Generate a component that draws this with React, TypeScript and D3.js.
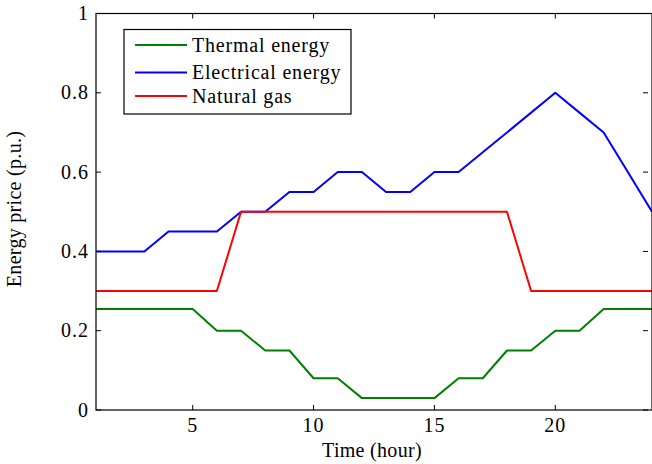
import { useEffect, useRef } from 'react';
import * as d3 from 'd3';

// hourly price data (p.u.)
const hours = d3.range(1, 25);
const thermal = [0.255, 0.255, 0.255, 0.255, 0.255, 0.2, 0.2, 0.15, 0.15, 0.08, 0.08, 0.03,
  0.03, 0.03, 0.03, 0.08, 0.08, 0.15, 0.15, 0.2, 0.2, 0.255, 0.255, 0.255];
const electrical = [0.4, 0.4, 0.4, 0.45, 0.45, 0.45, 0.5, 0.5, 0.55, 0.55, 0.6, 0.6,
  0.55, 0.55, 0.6, 0.6, 0.65, 0.7, 0.75, 0.8, 0.75, 0.7, 0.6, 0.5];
const naturalGas = [0.3, 0.3, 0.3, 0.3, 0.3, 0.3, 0.5, 0.5, 0.5, 0.5, 0.5, 0.5,
  0.5, 0.5, 0.5, 0.5, 0.5, 0.5, 0.3, 0.3, 0.3, 0.3, 0.3, 0.3];

const seriesNames = ['Thermal energy', 'Electrical energy', 'Natural gas'];
const seriesColors = ['#008000', '#0000ff', '#ff0000'];
const xTicks = [5, 10, 15, 20];
const yTicks = [0, 0.2, 0.4, 0.6, 0.8, 1];

export default function App() {
  const svgRef = useRef<SVGSVGElement>(null);

  useEffect(() => {
    const width = 652;
    const height = 464;
    const left = 96, right = 652, top = 13.5, bottom = 410;
    const font = 'Liberation Serif, Times New Roman, serif';
    const fs = 20;

    const svg = d3.select(svgRef.current);
    svg.selectAll('*').remove();
    svg.attr('width', width).attr('height', height);

    svg.append('rect').attr('width', width).attr('height', height).attr('fill', 'white');

    const x = d3.scaleLinear().domain([1, 24]).range([left, right]);
    const y = d3.scaleLinear().domain([0, 1]).range([bottom, top]);

    // lines
    const allSeries = [thermal, electrical, naturalGas];
    const line = d3.line<number>()
      .x((_, i) => x(hours[i]))
      .y((d) => y(d));

    allSeries.forEach((vals, i) => {
      svg.append('path')
        .datum(vals)
        .attr('d', line)
        .attr('fill', 'none')
        .attr('stroke', seriesColors[i])
        .attr('stroke-width', 2)
        .attr('stroke-linejoin', 'round');
    });

    // axes box
    svg.append('rect')
      .attr('x', left).attr('y', top)
      .attr('width', right - left).attr('height', bottom - top)
      .attr('fill', 'none').attr('stroke', 'black').attr('stroke-width', 1.2);

    const tickLen = 5;
    xTicks.forEach((t) => {
      svg.append('line').attr('x1', x(t)).attr('x2', x(t)).attr('y1', bottom).attr('y2', bottom - tickLen)
        .attr('stroke', 'black');
      svg.append('line').attr('x1', x(t)).attr('x2', x(t)).attr('y1', top).attr('y2', top + tickLen)
        .attr('stroke', 'black');
      svg.append('text')
        .attr('x', x(t)).attr('y', 432)
        .attr('text-anchor', 'middle')
        .attr('font-family', font).attr('font-size', fs).attr('letter-spacing', 1)
        .text(t);
    });

    yTicks.forEach((t) => {
      svg.append('line').attr('x1', left).attr('x2', left + tickLen).attr('y1', y(t)).attr('y2', y(t))
        .attr('stroke', 'black');
      svg.append('line').attr('x1', right - 4).attr('x2', right - 4 - tickLen).attr('y1', y(t)).attr('y2', y(t))
        .attr('stroke', 'black');
      svg.append('text')
        .attr('x', 89).attr('y', y(t) + 6.5)
        .attr('text-anchor', 'end')
        .attr('font-family', font).attr('font-size', fs).attr('letter-spacing', 1)
        .text(t === 0 || t === 1 ? String(t) : t.toFixed(1));
    });

    // axis labels
    svg.append('text')
      .attr('x', 372).attr('y', 457)
      .attr('text-anchor', 'middle')
      .attr('font-family', font).attr('font-size', fs).attr('letter-spacing', 0.3)
      .text('Time (hour)');

    svg.append('text')
      .attr('transform', 'translate(21,209) rotate(-90)')
      .attr('text-anchor', 'middle')
      .attr('font-family', font).attr('font-size', fs).attr('letter-spacing', 0.3)
      .text('Energy price (p.u.)');

    // legend
    const lg = svg.append('g');
    lg.append('rect')
      .attr('x', 124).attr('y', 29.5).attr('width', 227).attr('height', 84.5)
      .attr('fill', 'white').attr('stroke', 'black').attr('stroke-width', 1.2);
    const rowY = [45, 72.5, 96];
    seriesNames.forEach((name, i) => {
      lg.append('line')
        .attr('x1', 135).attr('x2', 187).attr('y1', rowY[i]).attr('y2', rowY[i])
        .attr('stroke', seriesColors[i]).attr('stroke-width', 2);
      lg.append('text')
        .attr('x', 192).attr('y', rowY[i] + 6.5)
        .attr('font-family', font).attr('font-size', fs).attr('letter-spacing', 0.8)
        .text(name);
    });
  }, []);

  return (
    <svg ref={svgRef} style={{ position: 'absolute', left: 0, top: 0, display: 'block' }} />
  );
}
